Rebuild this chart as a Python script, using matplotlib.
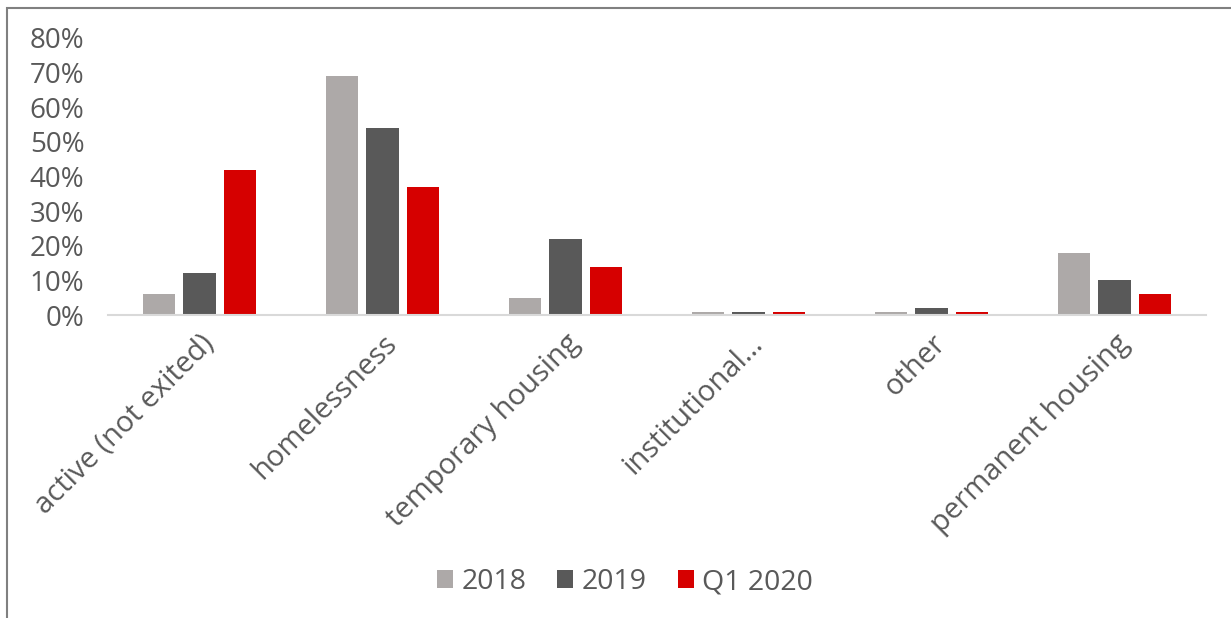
import matplotlib.pyplot as plt
import numpy as np
from matplotlib.patches import Rectangle
from matplotlib.ticker import PercentFormatter

categories = ["active (not exited)", "homelessness", "temporary housing",
              "institutional…", "other", "permanent housing"]
series_names = ["2018", "2019", "Q1 2020"]
values_2018 = [6, 69, 5, 1, 1, 18]
values_2019 = [12, 54, 22, 1, 2, 10]
values_q1_2020 = [42, 37, 14, 1, 1, 6]
colors = ["#ADA9A8", "#595959", "#D60000"]
text_color = "#595959"

plt.rcParams["font.family"] = ["Open Sans", "DejaVu Sans"]

fig = plt.figure(figsize=(12.31, 6.18), dpi=100)
ax = fig.add_axes([108 / 1231, 1 - 315 / 618, 1098 / 1231, 277 / 618])

x = np.arange(len(categories))
width = 0.175
gap = 0.045
for i, (vals, name, col) in enumerate(zip([values_2018, values_2019, values_q1_2020],
                                          series_names, colors)):
    offset = (i - 1) * (width + gap)
    ax.bar(x + offset, vals, width, color=col, label=name, zorder=2)

ax.set_xlim(-0.5, len(categories) - 0.5)
ax.set_ylim(0, 80)
ax.set_yticks(range(0, 81, 10))
ax.yaxis.set_major_formatter(PercentFormatter(decimals=0))
ax.tick_params(axis="y", length=0, pad=17, labelsize=20, labelcolor=text_color)
ax.set_xticks(x)
ax.set_xticklabels(categories, rotation=45, ha="right", rotation_mode="anchor",
                   fontsize=21, color=text_color)
ax.tick_params(axis="x", length=0, pad=10)

for side in ["top", "right", "left"]:
    ax.spines[side].set_visible(False)
ax.spines["bottom"].set_color("#D9D9D9")
ax.spines["bottom"].set_linewidth(1.5)

leg = fig.legend(loc="center", bbox_to_anchor=(625 / 1231, 1 - 582 / 618), ncol=3,
                 frameon=False, fontsize=20.5, handlelength=0.55, handleheight=0.55,
                 handletextpad=0.3, columnspacing=1.1)
for t in leg.get_texts():
    t.set_color(text_color)

# outer frame: only left and top edges fall inside the canvas
fig.patches.append(Rectangle((7 / 1231, -0.1), 1.2, 1 - 8 / 618 + 0.1,
                             transform=fig.transFigure, fill=False,
                             edgecolor="#808080", linewidth=1.5))

fig.savefig("out.png", dpi=100)
